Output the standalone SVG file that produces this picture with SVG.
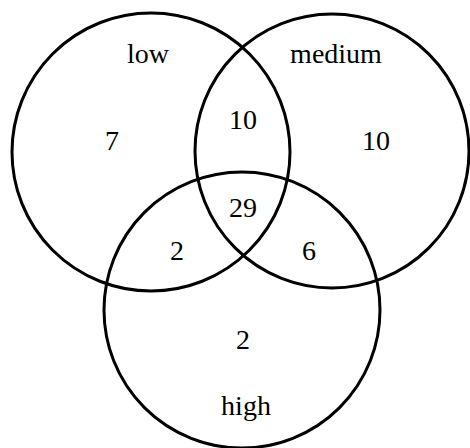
<svg xmlns="http://www.w3.org/2000/svg" width="470" height="448" viewBox="0 0 470 448">
<style>
.c{fill:none;stroke:#000;stroke-width:3}
text{font-family:"Liberation Serif","Times New Roman",serif;font-size:28px;fill:#000;text-anchor:middle}
</style>
<rect width="470" height="448" fill="#fff"/>
<g id="low"><circle class="c" cx="151" cy="152" r="139"/><text x="148" y="63">low</text></g>
<g id="medium"><circle class="c" cx="332" cy="151" r="137"/><text x="336" y="63">medium</text></g>
<g id="high"><circle class="c" cx="242" cy="310" r="138"/><text x="246" y="415">high</text></g>
<g id="counts">
<text x="112" y="150">7</text>
<text x="243" y="129">10</text>
<text x="376" y="150">10</text>
<text x="243" y="217">29</text>
<text x="177" y="260">2</text>
<text x="309" y="260">6</text>
<text x="243" y="349">2</text>
</g>
</svg>
